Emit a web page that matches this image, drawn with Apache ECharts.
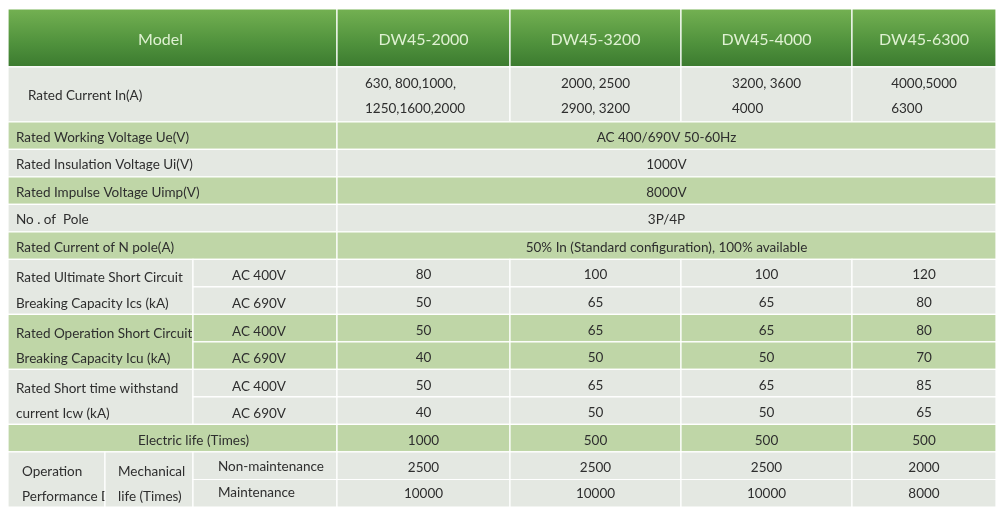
<!DOCTYPE html>
<html>
<head>
<meta charset="utf-8">
<script src="https://cdn.jsdelivr.net/npm/echarts@6/dist/echarts.min.js"></script>
<style>
  html, body { margin: 0; padding: 0; background: #fff; }
  #chart { width: 1000px; height: 518px; }
</style>
</head>
<body>
<div id="chart"></div>
<script>
// table content
const models = ['DW45-2000', 'DW45-3200', 'DW45-4000', 'DW45-6300']
const ratedCurrent = [
  ['630, 800,1000,', '1250,1600,2000'],
  ['2000, 2500', '2900, 3200'],
  ['3200, 3600', '4000'],
  ['4000,5000', '6300']
]
const sharedLabels = [
  'Rated Working Voltage Ue(V)',
  'Rated Insulation Voltage Ui(V)',
  'Rated Impulse Voltage Uimp(V)',
  'No . of  Pole',
  'Rated Current of N pole(A)'
]
const sharedValues = [
  'AC 400/690V 50-60Hz',
  '1000V',
  '8000V',
  '3P/4P',
  '50% In (Standard configuration), 100% available'
]
const kaLabels = [
  ['Rated Ultimate Short Circuit', 'Breaking Capacity Ics (kA)'],
  ['Rated Operation Short Circuit', 'Breaking Capacity Icu (kA)'],
  ['Rated Short time withstand', 'current Icw (kA)']
]
const voltages = ['AC 400V', 'AC 690V']
const icsAc400 = [80, 100, 100, 120]
const icsAc690 = [50, 65, 65, 80]
const icuAc400 = [50, 65, 65, 80]
const icuAc690 = [40, 50, 50, 70]
const icwAc400 = [50, 65, 65, 85]
const icwAc690 = [40, 50, 50, 65]
const electricLife = [1000, 500, 500, 500]
const mechNonMaint = [2500, 2500, 2500, 2000]
const mechMaint = [10000, 10000, 10000, 8000]

// layout
const colWidths = [97, 88, 144, 173, 171, 171, 144]
const rowUnits = [2.1, 2, 1, 1, 1, 1, 1, 1, 1, 1, 1, 1, 1, 1, 1, 1]
const colEdges = [0]
colWidths.forEach(w => colEdges.push(colEdges[colEdges.length - 1] + w))
const rowEdges = [0]
rowUnits.forEach(h => rowEdges.push(rowEdges[rowEdges.length - 1] + h))

const GRAY = '#e4e8e2'
const GREEN = '#bfd6a7'
const FONT = 'Lato'
const HEAD = new echarts.graphic.LinearGradient(0, 0, 0, 1, [
  { offset: 0, color: '#74b152' },
  { offset: 0.6, color: '#4f913c' },
  { offset: 1, color: '#3b7a2f' }
])

const ctx = document.createElement('canvas').getContext('2d')
function measure(text, size) {
  ctx.font = size + 'px ' + FONT
  return ctx.measureText(text).width
}

const cells = []
function cell(c0, c1, r0, r1, fill, lines, align, pad, extra) {
  cells.push(Object.assign({ c0, c1, r0, r1, fill, lines, align, pad: pad || 0, dy: 2 }, extra || {}))
}

// header
cell(0, 3, 0, 1, 'head', ['Model'], 'center', 0, { dx: -12 })
models.forEach((m, i) => cell(3 + i, 4 + i, 0, 1, 'head', [m], 'center'))
// rated current
cell(0, 3, 1, 2, GRAY, ['Rated Current In(A)'], 'left', 20, { dy: 1 })
ratedCurrent.forEach((v, i) => cell(3 + i, 4 + i, 1, 2, GRAY, v, i === 0 ? 'left' : 'block', 28, { lh: 25 }))
// shared rows
sharedLabels.forEach((t, k) => {
  const fill = k % 2 === 0 ? GREEN : GRAY
  cell(0, 3, 2 + k, 3 + k, fill, [t], 'left', 8)
  cell(3, 7, 2 + k, 3 + k, fill, [sharedValues[k]], 'center')
})
// kA groups
const kaValues = [[icsAc400, icsAc690], [icuAc400, icuAc690], [icwAc400, icwAc690]]
kaLabels.forEach((lab, g) => {
  const fill = g % 2 === 0 ? GRAY : GREEN
  const r = 7 + 2 * g
  cell(0, 2, r, r + 2, fill, lab, 'left', 8, { lh: 25.5, dy: 4 })
  voltages.forEach((v, j) => {
    cell(2, 3, r + j, r + j + 1, fill, [v], 'left', 39, { dy: 3 })
    kaValues[g][j].forEach((n, i) => cell(3 + i, 4 + i, r + j, r + j + 1, fill, [String(n)], 'center'))
  })
})
// electric life
cell(0, 3, 13, 14, GREEN, ['Electric life (Times)'], 'center', 0, { dx: 21 })
electricLife.forEach((n, i) => cell(3 + i, 4 + i, 13, 14, GREEN, [String(n)], 'center'))
// operation performance
cell(0, 1, 14, 16, GRAY, ['Operation', 'Performance D'], 'left', 14, { lh: 25, dy: 5 })
cell(1, 2, 14, 16, GRAY, ['Mechanical', 'life (Times)'], 'left', 13, { lh: 25, dy: 5 })
cell(2, 3, 14, 15, GRAY, ['Non-maintenance'], 'left', 25, { dy: 1 })
cell(2, 3, 15, 16, GRAY, ['Maintenance'], 'left', 25, { dy: -1 })
mechNonMaint.forEach((n, i) => cell(3 + i, 4 + i, 14, 15, GRAY, [String(n)], 'center', 0, { dy: 2 }))
mechMaint.forEach((n, i) => cell(3 + i, 4 + i, 15, 16, GRAY, [String(n)], 'center', 0, { dy: 0 }))

const data = cells.map((c, i) => [colEdges[c.c0], rowEdges[c.r0], colEdges[c.c1], rowEdges[c.r1], i])

function renderCell(params, api) {
  const c = cells[api.value(4)]
  const p0 = api.coord([api.value(0), api.value(1)])
  const p1 = api.coord([api.value(2), api.value(3)])
  const x = p0[0], y = p0[1], w = p1[0] - p0[0], h = p1[1] - p0[1]
  const isHead = c.fill === 'head'
  const size = isHead ? 16 : 13.5
  let tx = x + w / 2 + (c.dx || 0)
  let align = 'center'
  if (c.align === 'left') {
    tx = x + c.pad
    align = 'left'
  } else if (c.align === 'block') {
    const maxW = Math.max.apply(null, c.lines.map(l => measure(l, size)))
    tx = x + w / 2 - maxW / 2
    align = 'left'
  }
  return {
    type: 'group',
    children: [
      {
        type: 'rect',
        shape: { x, y, width: w, height: h },
        style: { fill: isHead ? HEAD : c.fill, stroke: '#ffffff', lineWidth: 1.2 }
      },
      {
        type: 'text',
        style: {
          text: c.lines.join('\n'),
          x: tx,
          y: y + h / 2 + c.dy,
          align: align,
          verticalAlign: 'middle',
          lineHeight: c.lh || 20,
          fontFamily: FONT,
          fontSize: size,
          fill: isHead ? '#dff1d2' : '#2e2e2e'
        }
      }
    ]
  }
}

const chart = echarts.init(document.getElementById('chart'))
chart.setOption({
  animation: false,
  grid: { left: 8, right: 4, top: 9, bottom: 11 },
  xAxis: { type: 'value', min: 0, max: colEdges[colEdges.length - 1], show: false },
  yAxis: { type: 'value', min: 0, max: rowEdges[rowEdges.length - 1], inverse: true, show: false },
  series: [
    {
      type: 'custom',
      renderItem: renderCell,
      encode: { x: [0, 2], y: [1, 3] },
      clip: false,
      data: data
    }
  ]
})
</script>
</body>
</html>
